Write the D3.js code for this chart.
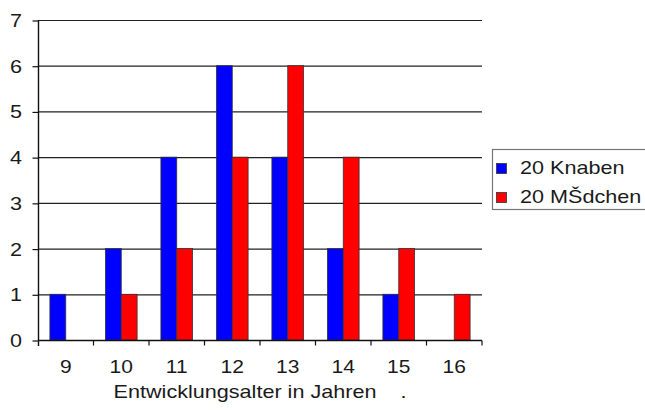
<!DOCTYPE html>
<html>
<head>
<meta charset="utf-8">
<script src="https://cdn.jsdelivr.net/npm/d3@7"></script>
<style>
  html, body { margin: 0; padding: 0; background: #fff; }
  svg { display: block; font-family: "Liberation Sans", Arial, sans-serif; }
</style>
</head>
<body>
<svg id="chart" width="645" height="410"></svg>
<script>
// Entwicklungsalter (Jahre) und Anzahl je Gruppe
const ages = ["9", "10", "11", "12", "13", "14", "15", "16"];
const seriesNames = ["20 Knaben", "20 MŠdchen"];
const knaben = [1, 2, 4, 6, 4, 2, 1, 0];
const maedchen = [0, 1, 2, 4, 6, 4, 2, 1];
const yTicks = [0, 1, 2, 3, 4, 5, 6, 7];
const xTitle = "Entwicklungsalter in Jahren    .";

const colors = ["#0000ff", "#ff0000"];
const values = [knaben, maedchen];
const stretch = 1.2; // horizontally widened lettering

const svg = d3.select("#chart");
const plotL = 38, plotR = 482, plotT = 20, plotB = 340;

const x = d3.scaleBand().domain(ages).range([plotL, plotR]).padding(0);
const x1 = d3.scaleBand().domain(seriesNames).range([0, x.bandwidth()])
  .paddingInner(0).paddingOuter(0.75);
const y = d3.scaleLinear().domain([0, 7]).range([plotB, plotT]);

function label(g, txt, px, py, size, anchor) {
  return g.append("text")
    .attr("transform", `translate(${px},${py}) scale(${stretch},1)`)
    .attr("text-anchor", anchor || "start")
    .attr("font-size", size)
    .attr("fill", "#1a1a1a")
    .style("white-space", "pre")
    .text(txt);
}

// horizontal grid lines
svg.append("g").selectAll("line")
  .data(yTicks.filter(d => d > 0))
  .join("line")
  .attr("x1", plotL).attr("x2", plotR)
  .attr("y1", d => y(d) + 0.5).attr("y2", d => y(d) + 0.5)
  .attr("stroke", "#222").attr("stroke-width", 1.2);

// bars
const groups = svg.append("g").selectAll("g")
  .data(seriesNames)
  .join("g")
  .attr("fill", (d, i) => colors[i]);

groups.selectAll("rect")
  .data((s, si) => ages.map((a, i) => ({ age: a, s: s, v: values[si][i] })).filter(d => d.v > 0))
  .join("rect")
  .attr("x", d => x(d.age) + x1(d.s))
  .attr("width", x1.bandwidth())
  .attr("y", d => y(d.v))
  .attr("height", d => y(0) - y(d.v))
  .attr("stroke", "#333")
  .attr("stroke-width", 0.8);

// y axis
const yAxis = svg.append("g")
  .attr("transform", `translate(${plotL + 0.5},0)`)
  .call(d3.axisLeft(y).tickValues(yTicks).tickSize(6).tickFormat(d3.format("d")));
yAxis.select(".domain").attr("stroke", "#111").attr("stroke-width", 1.4)
  .attr("d", `M0,${plotT}V${plotB + 6}`);
yAxis.selectAll(".tick line").attr("stroke", "#111").attr("stroke-width", 1.2).attr("transform", "translate(0,0.5)");
yAxis.selectAll(".tick text").remove();
yTicks.forEach(t => label(svg, String(t), 22, y(t) + 7, 18, "end"));

// x axis
const xAxis = svg.append("g")
  .attr("transform", `translate(0,${plotB + 0.5})`)
  .call(d3.axisBottom(x).tickSize(0));
xAxis.select(".domain").attr("stroke", "#111").attr("stroke-width", 1.4)
  .attr("d", `M${plotL},0H${plotR}`);
xAxis.selectAll(".tick text").remove();
xAxis.selectAll(".tick line").remove();
xAxis.selectAll("line.sep")
  .data(ages.slice(1).concat(["end"]))
  .join("line")
  .attr("x1", d => d === "end" ? plotR : x(d))
  .attr("x2", d => d === "end" ? plotR : x(d))
  .attr("y1", 0).attr("y2", 5)
  .attr("stroke", "#111").attr("stroke-width", 1.2);
ages.forEach(a => label(svg, a, x(a) + x.bandwidth() / 2, 373, 17.5, "middle"));

// axis title
label(svg, xTitle, (plotL + plotR) / 2, 398, 18, "middle");

// legend
const lg = svg.append("g");
lg.append("rect")
  .attr("x", 492.5).attr("y", 149.5).attr("width", 170).attr("height", 60)
  .attr("fill", "#fff").attr("stroke", "#777").attr("stroke-width", 1.2);
seriesNames.forEach((s, i) => {
  const yy = 163 + i * 29;
  lg.append("rect")
    .attr("x", 496.5).attr("y", yy + 0.5).attr("width", 10).attr("height", 10)
    .attr("fill", colors[i]).attr("stroke", "#333").attr("stroke-width", 0.8);
  label(lg, s, 520, yy + 11, 18, "start");
});
</script>
</body>
</html>
